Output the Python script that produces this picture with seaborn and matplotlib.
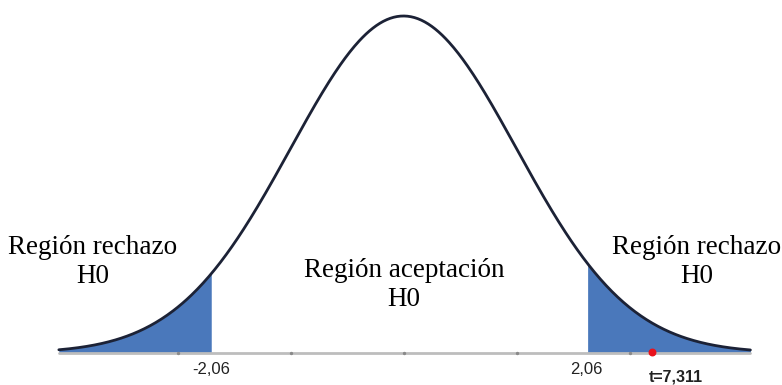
import numpy as np
import pandas as pd
import seaborn as sns
import matplotlib.pyplot as plt

# Dati (posizioni in unità della curva normale)
curva_inizio = -3.05
curva_fine = 3.07
critici = [-1.70, 1.62]
etichette_critici = ['-2,06', '2,06']
t_pos = 2.2
t_label = 't=7,311'
tacche = [-2, -1, 0, 1, 2]
regioni = ['Región rechazo\nH0', 'Región aceptación\nH0', 'Región rechazo\nH0']

# Curva normale standard
x = np.linspace(curva_inizio, curva_fine, 600)
y = np.exp(-x**2 / 2) / np.sqrt(2 * np.pi)
df = pd.DataFrame({'x': x, 'y': y})

sns.set_style('white')
fig = plt.figure(figsize=(7.82, 3.85), dpi=100)
sigma_px = 113
centro_px = 403.5
x_lim = (-3.3, 3.3)
ax = fig.add_axes([(centro_px + x_lim[0] * sigma_px) / 782, 32 / 385,
                   (x_lim[1] - x_lim[0]) * sigma_px / 782, 337 / 385])
ax.set_xlim(*x_lim)
ax.set_ylim(0, y.max())
ax.axis('off')

blu = '#4a78bb'
# Aree di rifiuto
sx = df[df.x <= critici[0]]
dx = df[df.x >= critici[1]]
ax.fill_between(sx.x, 0, sx.y, color=blu, lw=0)
ax.fill_between(dx.x, 0, dx.y, color=blu, lw=0)

# Asse orizzontale grigio
ax.plot([curva_inizio, curva_fine], [0, 0], color='#bdbdbd', lw=2, clip_on=False, zorder=1)
ax.scatter(tacche, [0] * len(tacche), s=2, color='#8a8a8a', zorder=2, clip_on=False)

sns.lineplot(data=df, x='x', y='y', ax=ax, color='#1c2236', lw=2, clip_on=False, zorder=3)

# Punto della statistica t
ax.scatter([t_pos], [0.001], s=22, color='#e8121c', zorder=4, clip_on=False)

# Etichette dei valori critici
for c, lab in zip(critici, etichette_critici):
    ax.text(c, -0.011, lab, ha='center', va='top', fontsize=12,
            family='Liberation Sans', color='#222222')
ax.text(t_pos + 0.21, -0.02, t_label, ha='center', va='top', fontsize=11.5,
        family='Liberation Sans', fontweight='bold', color='#222222')

# Testi delle regioni
font_reg = dict(fontsize=19.5, family='Liberation Serif', ha='center',
                va='center', linespacing=1.2, color='black')
fig.text(93 / 782, 1 - 262 / 385, regioni[0], **font_reg)
fig.text(404 / 782, 1 - 285 / 385, regioni[1], **font_reg)
fig.text(697 / 782, 1 - 262 / 385, regioni[2], **font_reg)

fig.savefig('out.png', dpi=100)
